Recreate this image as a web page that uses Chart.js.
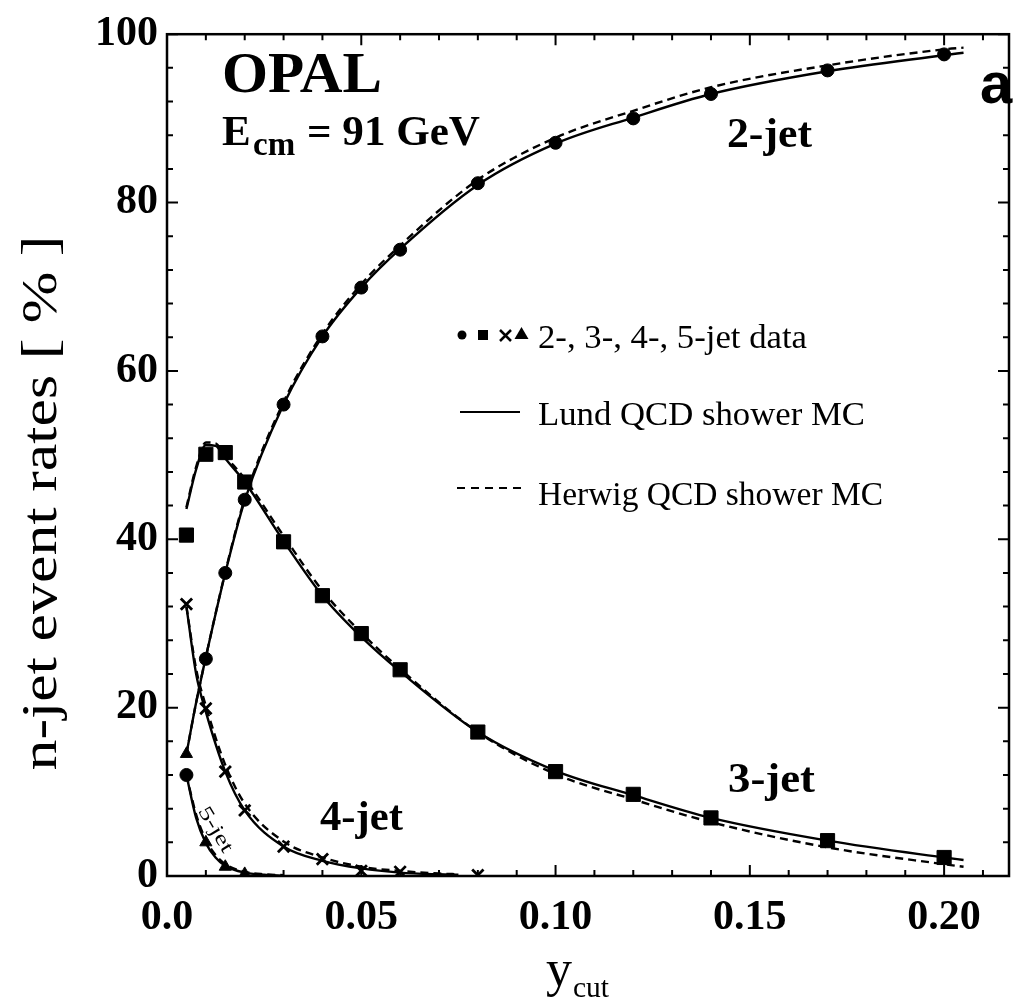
<!DOCTYPE html>
<html>
<head>
<meta charset="utf-8">
<script src="https://cdn.jsdelivr.net/npm/chart.js@4.4.1/dist/chart.umd.min.js"></script>
<style>
  html, body { margin: 0; padding: 0; background: #fff; }
</style>
</head>
<body>
<canvas id="chart" width="1020" height="1008"></canvas>
<script>
// measured data (OPAL, Ecm = 91 GeV)
const ycut = [0.005, 0.01, 0.015, 0.02, 0.03, 0.04, 0.05, 0.06, 0.08, 0.10, 0.12, 0.14, 0.17, 0.20];
const jet2 = [12.0, 25.8, 36.0, 44.7, 56.0, 64.1, 69.9, 74.4, 82.3, 87.1, 90.0, 92.9, 95.7, 97.6];
const jet3 = [40.5, 50.1, 50.3, 46.8, 39.7, 33.3, 28.8, 24.5, 17.1, 12.4, 9.7, 6.9, 4.2, 2.2];
const ycut4 = [0.005, 0.01, 0.015, 0.02, 0.03, 0.04, 0.05, 0.06, 0.08];
const jet4 = [32.3, 19.9, 12.4, 7.8, 3.5, 2.0, 0.6, 0.5, 0.1];
const ycut5 = [0.005, 0.01, 0.015, 0.02];
const jet5 = [14.5, 4.0, 1.1, 0.25];

// MC curves
const mcX2 = [0.005, 0.0075, 0.01, 0.015, 0.02, 0.03, 0.04, 0.05, 0.06, 0.08, 0.10, 0.12, 0.14, 0.17, 0.20, 0.205];
const lund2 = [14.5, 20.6, 26.0, 36.0, 44.6, 56.0, 64.1, 69.9, 74.5, 82.1, 87.0, 90.1, 92.9, 95.6, 97.5, 97.8];
const herwig2 = [14.5, 20.6, 26.0, 36.1, 44.8, 56.3, 64.4, 70.3, 74.9, 82.7, 87.7, 90.9, 93.7, 96.3, 98.2, 98.4];
const mcX3 = [0.005, 0.0075, 0.01, 0.0125, 0.015, 0.02, 0.03, 0.04, 0.05, 0.06, 0.08, 0.10, 0.12, 0.14, 0.17, 0.20, 0.205];
const lund3 = [43.6, 48.3, 51.2, 51.1, 49.6, 46.8, 39.8, 33.3, 28.4, 24.3, 17.1, 12.5, 9.6, 6.9, 4.2, 2.2, 1.9];
const herwig3 = [43.8, 48.6, 51.5, 51.4, 49.9, 47.2, 40.4, 33.9, 28.9, 24.6, 17.1, 12.1, 9.1, 6.4, 3.4, 1.4, 1.1];
const mcX4 = [0.005, 0.0075, 0.01, 0.015, 0.02, 0.03, 0.04, 0.05, 0.06, 0.07, 0.075];
const lund4 = [32.0, 24.0, 19.5, 12.4, 7.8, 3.5, 1.8, 0.9, 0.4, 0.2, 0.15];
const herwig4 = [32.0, 24.6, 20.2, 13.2, 8.6, 4.1, 2.2, 1.1, 0.6, 0.3, 0.2];
const mcX5 = [0.005, 0.0075, 0.01, 0.0125, 0.015, 0.02, 0.025, 0.03];
const lund5 = [12.0, 6.9, 3.9, 2.2, 1.2, 0.4, 0.15, 0.05];
const herwig5 = [12.0, 7.3, 4.3, 2.5, 1.4, 0.5, 0.2, 0.1];

// axis ticks
const xMajor = [0, 0.05, 0.10, 0.15, 0.20];
const xLabels = ['0.0', '0.05', '0.10', '0.15', '0.20'];
const yMajor = [0, 20, 40, 60, 80, 100];

const SERIF = '"Liberation Serif", "Times New Roman", serif';
const SANS = '"Liberation Sans", Arial, sans-serif';

const pts = (xs, ys) => xs.map((v, i) => ({ x: v, y: ys[i] }));

function dataSet(label, xs, ys, style, r, bw) {
  return {
    label, data: pts(xs, ys), showLine: false,
    pointStyle: style, pointRadius: r, pointHoverRadius: r,
    pointBackgroundColor: '#000', pointBorderColor: '#000', pointBorderWidth: bw
  };
}
function mcSet(label, xs, ys, dashed) {
  return {
    label, data: pts(xs, ys), showLine: true, fill: false,
    borderColor: '#000', borderWidth: 2.4, borderDash: dashed ? [8, 5] : [],
    pointRadius: 0, cubicInterpolationMode: 'monotone'
  };
}

// frame and inward tick marks on all four sides
const frame = {
  id: 'frame',
  afterDatasetsDraw(chart) {
    const { ctx, chartArea: a, scales: { x, y } } = chart;
    ctx.save();
    ctx.strokeStyle = '#000';
    ctx.lineWidth = 2.5;
    ctx.strokeRect(a.left, a.top, a.right - a.left, a.bottom - a.top);
    ctx.lineWidth = 2;
    ctx.beginPath();
    for (let i = 0; i <= 21; i++) {
      const px = x.getPixelForValue(i * 0.01);
      const len = i % 5 === 0 ? 11 : 6;
      ctx.moveTo(px, a.bottom); ctx.lineTo(px, a.bottom - len);
      ctx.moveTo(px, a.top); ctx.lineTo(px, a.top + len);
    }
    for (let v = 0; v <= 100; v += 4) {
      const py = y.getPixelForValue(v);
      const len = v % 20 === 0 ? 11 : 6;
      ctx.moveTo(a.left, py); ctx.lineTo(a.left + len, py);
      ctx.moveTo(a.right, py); ctx.lineTo(a.right - len, py);
    }
    ctx.stroke();
    ctx.restore();
  }
};

function text(ctx, s, x, y, font, width) {
  ctx.font = font;
  const w = ctx.measureText(s).width;
  if (width) {
    ctx.save();
    ctx.translate(x, y);
    ctx.scale(width / w, 1);
    ctx.fillText(s, 0, 0);
    ctx.restore();
    return width;
  }
  ctx.fillText(s, x, y);
  return w;
}

const labels = {
  id: 'labels',
  afterDraw(chart) {
    const ctx = chart.ctx;
    ctx.save();
    ctx.fillStyle = '#000';
    ctx.strokeStyle = '#000';
    ctx.textAlign = 'left';
    ctx.textBaseline = 'alphabetic';

    text(ctx, 'OPAL', 222, 92, 'bold 57px ' + SERIF, 160);
    text(ctx, 'E', 222, 145, 'bold 43px ' + SERIF);
    text(ctx, 'cm', 253, 155, 'bold 33px ' + SERIF);
    text(ctx, '= 91 GeV', 307, 145, 'bold 43px ' + SERIF, 173);
    text(ctx, 'a', 980, 103, 'bold 58px ' + SANS);

    text(ctx, '2-jet', 727, 147, 'bold 43px ' + SERIF, 85);
    text(ctx, '3-jet', 728, 792, 'bold 43px ' + SERIF, 87);
    text(ctx, '4-jet', 320, 830, 'bold 43px ' + SERIF, 83);

    // rotated label along the 5-jet curve
    ctx.save();
    ctx.translate(203, 808);
    ctx.rotate(59 * Math.PI / 180);
    text(ctx, '5-jet', 0, 6, '20px ' + SERIF, 50);
    ctx.restore();

    // legend
    ctx.beginPath(); ctx.arc(462, 335, 4.5, 0, Math.PI * 2); ctx.fill();
    ctx.fillRect(478, 330, 10, 10);
    ctx.lineWidth = 2.5;
    ctx.beginPath();
    ctx.moveTo(500, 330); ctx.lineTo(511, 341);
    ctx.moveTo(511, 330); ctx.lineTo(500, 341);
    ctx.stroke();
    ctx.beginPath();
    ctx.moveTo(521.5, 327); ctx.lineTo(528.5, 339); ctx.lineTo(514.5, 339); ctx.closePath(); ctx.fill();
    text(ctx, '2-, 3-, 4-, 5-jet data', 538, 348, '34px ' + SERIF, 269);

    ctx.lineWidth = 2.2;
    ctx.beginPath(); ctx.moveTo(460, 412); ctx.lineTo(520, 412); ctx.stroke();
    text(ctx, 'Lund QCD shower MC', 538, 425, '34px ' + SERIF, 327);
    ctx.setLineDash([8, 6]);
    ctx.beginPath(); ctx.moveTo(457, 488); ctx.lineTo(522, 488); ctx.stroke();
    ctx.setLineDash([]);
    text(ctx, 'Herwig QCD shower MC', 538, 505, '34px ' + SERIF, 345);

    // axis titles
    const wy = text(ctx, 'y', 546, 986, '52px ' + SERIF);
    text(ctx, 'cut', 546 + wy + 1, 997, '29px ' + SERIF, 36);

    ctx.save();
    ctx.translate(56, 503);
    ctx.rotate(-Math.PI / 2);
    ctx.font = '50px ' + SERIF;
    const t = 'n-jet event rates [ % ]';
    const w = ctx.measureText(t).width;
    ctx.scale(535 / w, 1);
    ctx.fillText(t, -w / 2, 0);
    ctx.restore();

    ctx.restore();
  }
};

new Chart(document.getElementById('chart'), {
  type: 'scatter',
  data: {
    datasets: [
      dataSet('2-jet data', ycut, jet2, 'circle', 6.5, 1),
      dataSet('3-jet data', ycut, jet3, 'rect', 10, 1),
      dataSet('4-jet data', ycut4, jet4, 'crossRot', 8, 2.8),
      dataSet('5-jet data', ycut5, jet5, 'triangle', 7, 1),
      mcSet('Lund 2-jet', mcX2, lund2, false),
      mcSet('Herwig 2-jet', mcX2, herwig2, true),
      mcSet('Lund 3-jet', mcX3, lund3, false),
      mcSet('Herwig 3-jet', mcX3, herwig3, true),
      mcSet('Lund 4-jet', mcX4, lund4, false),
      mcSet('Herwig 4-jet', mcX4, herwig4, true),
      mcSet('Lund 5-jet', mcX5, lund5, false),
      mcSet('Herwig 5-jet', mcX5, herwig5, true)
    ]
  },
  options: {
    responsive: false,
    animation: false,
    layout: { padding: { left: 0, top: 27, right: 8, bottom: 0 } },
    plugins: { legend: { display: false }, tooltip: { enabled: false } },
    scales: {
      x: {
        type: 'linear', min: 0, max: 0.2167,
        grid: { display: false, drawTicks: false }, border: { display: false },
        afterBuildTicks: s => { s.ticks = xMajor.map(v => ({ value: v })); },
        afterFit: s => { s.height = 132; },
        ticks: {
          color: '#000', padding: 17, maxRotation: 0, autoSkip: false,
          font: { family: SERIF, size: 42, weight: 'bold' },
          callback: (v, i) => xLabels[i]
        }
      },
      y: {
        min: 0, max: 100,
        grid: { display: false, drawTicks: false }, border: { display: false },
        afterBuildTicks: s => { s.ticks = yMajor.map(v => ({ value: v })); },
        afterFit: s => { s.width = 167; },
        ticks: {
          color: '#000', padding: 9,
          font: { family: SERIF, size: 42, weight: 'bold' }
        }
      }
    }
  },
  plugins: [frame, labels]
});
</script>
</body>
</html>
